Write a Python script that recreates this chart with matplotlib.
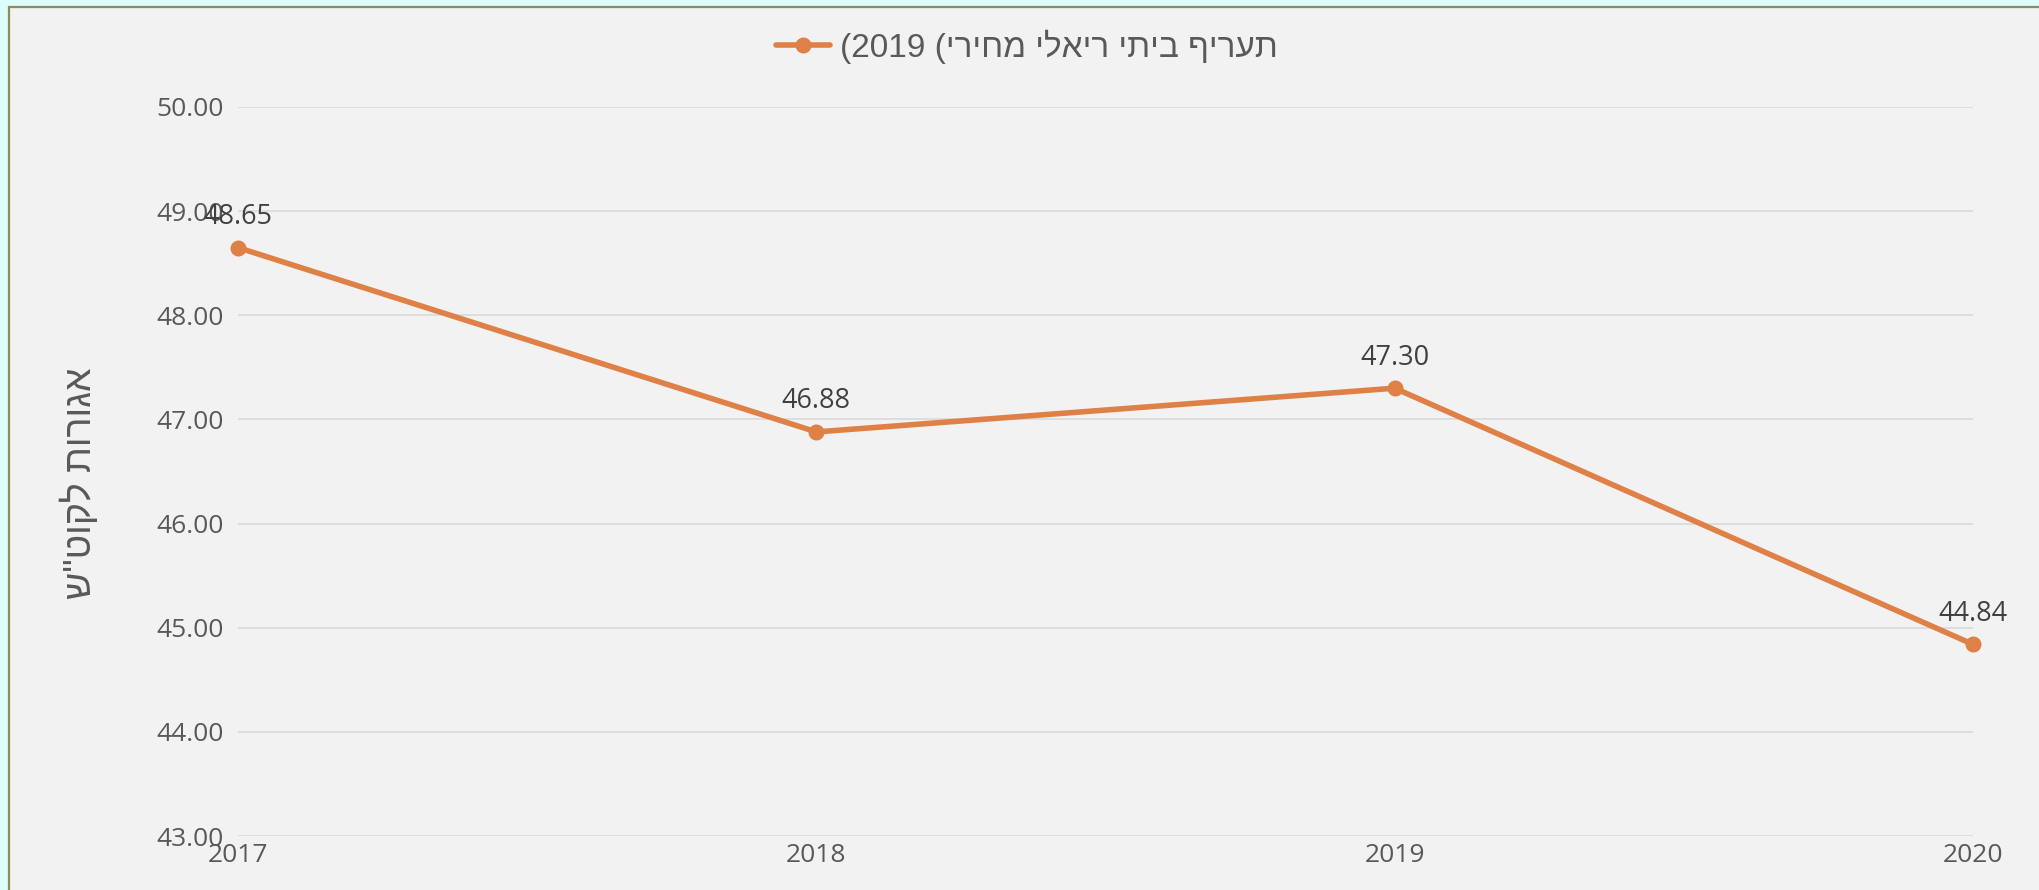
#real household tariff, 2017-2020 (2019 prices)
import matplotlib
matplotlib.use('Agg')
import matplotlib.pyplot as plt
from matplotlib.patches import Rectangle

#data
years = [2017, 2018, 2019, 2020]
tariff = [48.65, 46.88, 47.30, 44.84]
y_ticks = [43, 44, 45, 46, 47, 48, 49, 50]

#hebrew text (logical order); matplotlib has no bidi so we flip it for drawing
series_words = "תעריף ביתי ריאלי מחירי"
y_title = 'אגורות לקוט"ש'

def heb(s):
    return s[::-1]

legend_text = "(2019 (" + heb(series_words)

orange = "#df8047"
grey_txt = "#595959"
dark_txt = "#404040"
num_font = "Open Sans"
heb_font = ["Liberation Sans", "DejaVu Sans"]

fig = plt.figure(figsize=(20.39, 8.90), dpi=100)
fig.patch.set_facecolor("#ddfdfd")
#chart area box
fig.patches.append(Rectangle((8.5 / 2039, -0.01), 1.0, 1 - 6.5 / 890 + 0.01,
                             transform=fig.transFigure, facecolor="#f2f2f2",
                             edgecolor="#8b8d5e", lw=1.6, zorder=-5))

ax = fig.add_axes([238 / 2039, 54 / 890, (1973 - 238) / 2039, (836 - 107) / 890])
ax.set_facecolor("none")
ax.set_zorder(2)

line, = ax.plot(years, tariff, color=orange, lw=4, marker="o", ms=10.5,
                zorder=3, solid_capstyle="round", clip_on=False)

for x, v in zip(years, tariff):
    ax.annotate("%.2f" % v, (x, v), xytext=(0, 22), textcoords="offset points",
                ha="center", va="center", fontsize=19.5, color=dark_txt,
                family=num_font, zorder=4)

ax.set_xlim(years[0], years[-1])
ax.set_ylim(y_ticks[0], y_ticks[-1])
ax.set_xticks(years)
ax.set_xticklabels([str(y) for y in years])
ax.set_yticks(y_ticks)
ax.set_yticklabels(["%.2f" % t for t in y_ticks])
ax.tick_params(axis="both", length=0, labelsize=19, labelcolor=grey_txt)
ax.tick_params(axis="y", pad=10)
ax.tick_params(axis="x", pad=5)
for lab in ax.get_xticklabels() + ax.get_yticklabels():
    lab.set_family(num_font)

ax.grid(axis="y", color="#d9d9d9", lw=1.2)
ax.set_axisbelow(True)
for s in ax.spines.values():
    s.set_visible(False)

ax.set_ylabel(heb(y_title), fontsize=27, color=grey_txt, family=heb_font)
ax.yaxis.set_label_coords(-0.080, 0.484)

leg = fig.legend([line], [legend_text], loc="center",
                 bbox_to_anchor=(1027 / 2039, 1 - 47 / 890), frameon=False,
                 handlelength=1.6, handletextpad=0.3,
                 prop={"family": heb_font, "size": 24})
for t in leg.get_texts():
    t.set_color(grey_txt)

fig.savefig("out.png", dpi=100, facecolor=fig.get_facecolor())
